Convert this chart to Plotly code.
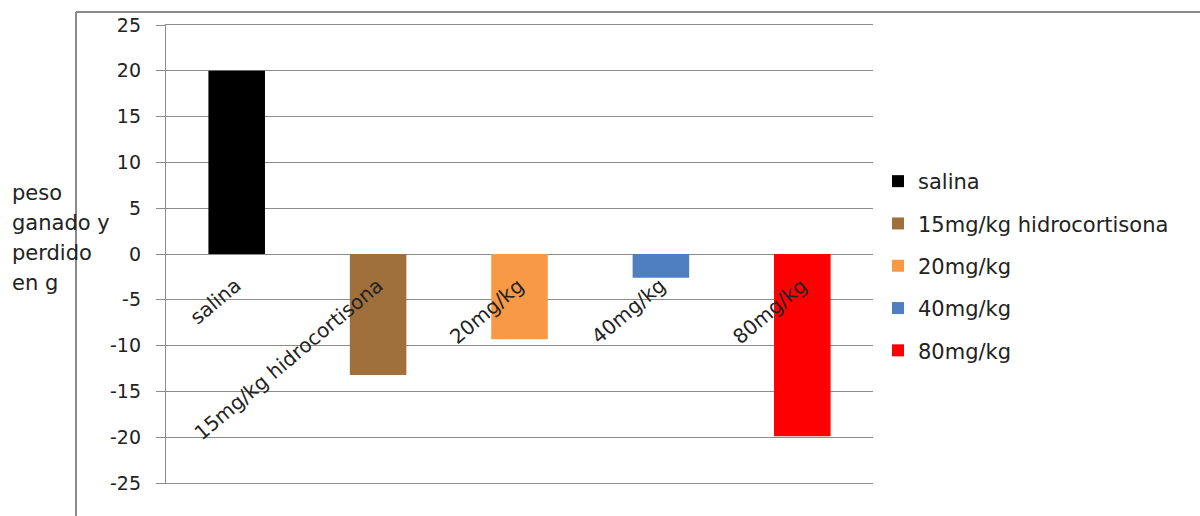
import plotly.graph_objects as go

categories = ["salina", "15mg/kg hidrocortisona", "20mg/kg", "40mg/kg", "80mg/kg"]
values = [20, -13.2, -9.3, -2.6, -19.9]
colors = ["#000000", "#A0703C", "#F89A45", "#4F7FC0", "#FF0000"]
y_ticks = [25, 20, 15, 10, 5, 0, -5, -10, -15, -20, -25]
y_title_lines = ["peso", "ganado y", "perdido", "en g"]

FONT = "DejaVu Sans"
TXT = "#222222"
GRID = "#8c8c8c"
W, H = 1200, 516
L, R, T, B = 166, 327, 25, 33
pw = W - L - R
ph = H - T - B

fig = go.Figure()
for i, (c, v, col) in enumerate(zip(categories, values, colors)):
    fig.add_trace(go.Bar(
        x=[c], y=[v], name=c, marker=dict(color=col, line=dict(width=0)),
        width=0.4, legendgroup=f"g{i}",
    ))

# category labels placed next to the zero line
for c in categories:
    fig.add_annotation(
        x=c, y=0, xref="x", yref="y", text=c, showarrow=False,
        textangle=-40, xanchor="right", yanchor="top",
        xshift=12, yshift=-16,
        font=dict(family=FONT, size=20, color=TXT),
    )

# y axis title, horizontal, left aligned, one line each
for k, line in enumerate(y_title_lines):
    ypix = 193 + k * 30
    fig.add_annotation(
        x=(10 - L) / pw, y=1 - (ypix - T) / ph, xref="paper", yref="paper",
        text=line, showarrow=False, xanchor="left", yanchor="middle",
        font=dict(family=FONT, size=21, color=TXT),
    )

# outer frame lines
fig.add_shape(type="line", xref="paper", yref="paper",
              x0=(76 - L) / pw, x1=(W - L) / pw, y0=1 + (T - 12) / ph, y1=1 + (T - 12) / ph,
              line=dict(color="#8a8a8a", width=2))
fig.add_shape(type="line", xref="paper", yref="paper",
              x0=(76 - L) / pw, x1=(76 - L) / pw, y0=1 + (T - 12) / ph, y1=-B / ph,
              line=dict(color="#8a8a8a", width=2))

fig.update_layout(
    width=W, height=H,
    margin=dict(l=L, r=R, t=T, b=B),
    paper_bgcolor="white", plot_bgcolor="white",
    showlegend=True,
    legend=dict(
        x=(878 - L) / pw, y=1 - (161 - T) / ph, xanchor="left", yanchor="top",
        font=dict(family=FONT, size=21, color=TXT),
        tracegroupgap=12, traceorder="grouped",
        itemwidth=30,
    ),
    bargap=0.6,
    font=dict(family=FONT, size=19, color=TXT),
)
fig.update_xaxes(
    showticklabels=False, showgrid=False, zeroline=False,
    showline=True, mirror=True, linecolor=GRID, linewidth=1.3, ticks="",
    categoryorder="array", categoryarray=categories,
)
fig.update_yaxes(
    range=[-25, 25], tickvals=y_ticks, ticktext=[str(t) for t in y_ticks],
    showgrid=True, gridcolor=GRID, gridwidth=1.3,
    zeroline=False, showline=True, linecolor=GRID, linewidth=1.3,
    ticks="outside", ticklen=9, tickcolor=GRID,
    tickfont=dict(family=FONT, size=19, color=TXT),
    ticklabelstandoff=11,
)

fig.write_html("out.html")
